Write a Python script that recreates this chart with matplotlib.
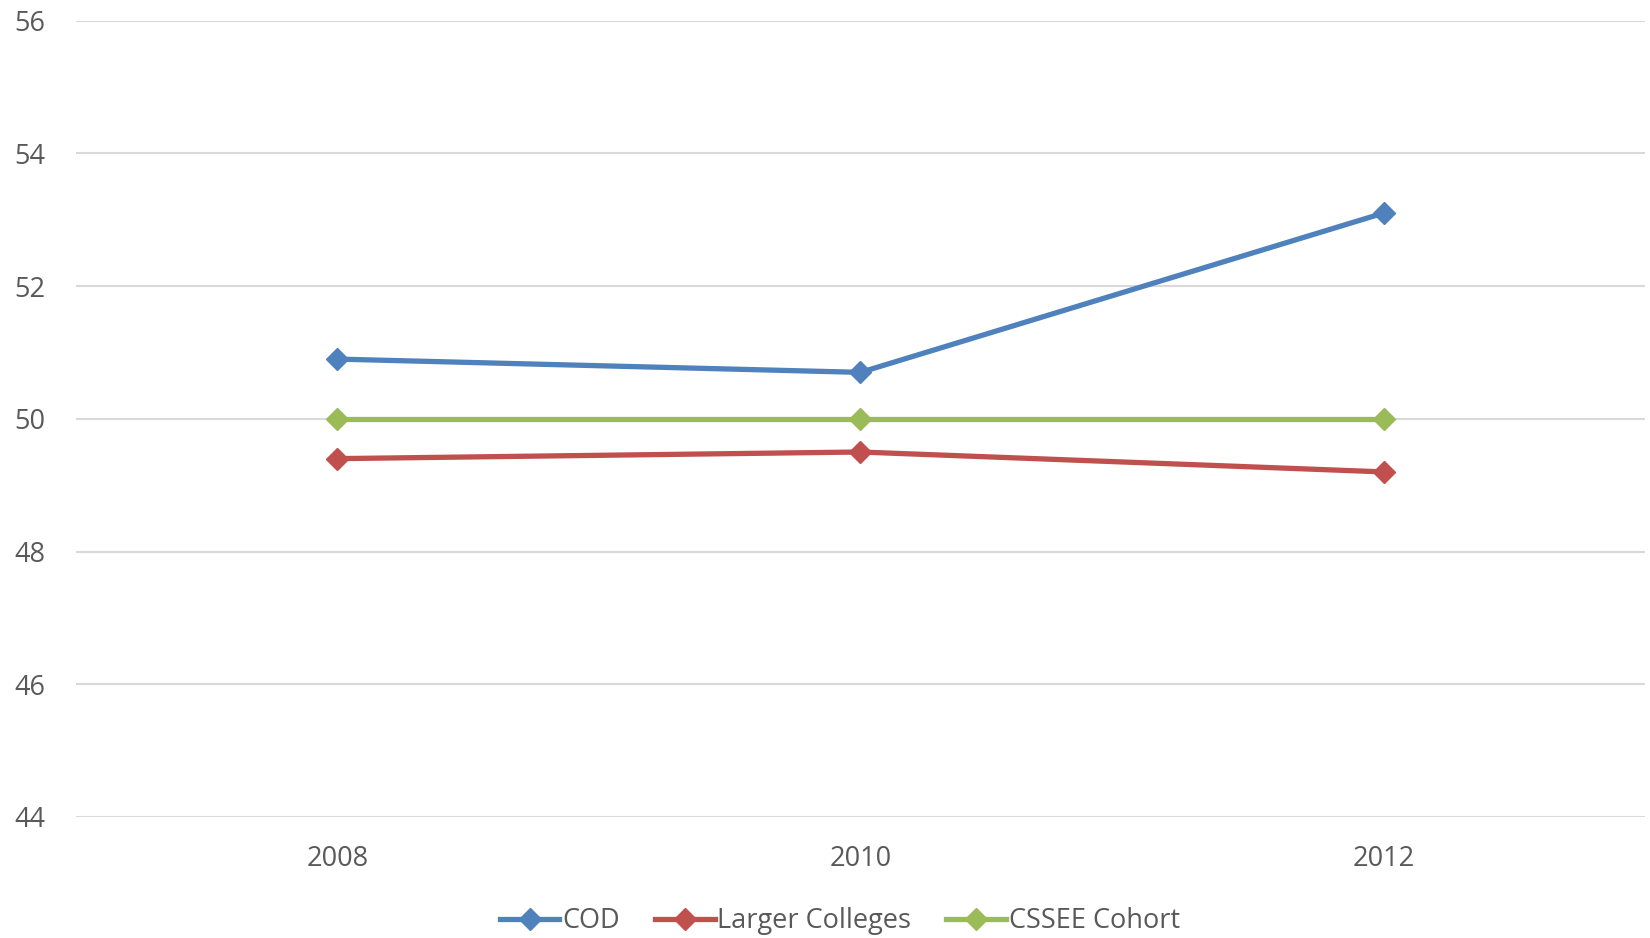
import matplotlib
matplotlib.use("Agg")
import matplotlib.pyplot as plt

# data
years = ["2008", "2010", "2012"]
cod = [50.9, 50.7, 53.1]
larger_colleges = [49.4, 49.5, 49.2]
cssee_cohort = [50.0, 50.0, 50.0]

series = [
    ("COD", cod, "#4F81BD"),
    ("Larger Colleges", larger_colleges, "#C0504D"),
    ("CSSEE Cohort", cssee_cohort, "#9BBB59"),
]

plt.rcParams["font.family"] = ["Open Sans", "DejaVu Sans"]

fig = plt.figure(figsize=(16.5, 9.38), dpi=100)
ax = fig.add_axes([0.046, 0.129, 0.951, 0.849])

x = range(len(years))
for name, vals, col in series:
    ax.plot(x, vals, color=col, lw=3.8, marker="D", markersize=11,
            label=name, zorder=3, solid_joinstyle="round")

ax.set_xlim(-0.5, len(years) - 0.5)
ax.set_ylim(44, 56)
ax.set_yticks(range(44, 57, 2))
ax.set_xticks(list(x))
ax.set_xticklabels(years)
ax.yaxis.grid(True, color="#D9D9D9", lw=1.5)
ax.set_axisbelow(True)
for s in ax.spines.values():
    s.set_visible(False)
ax.tick_params(axis="both", length=0, labelsize=19.5, labelcolor="#595959")
ax.tick_params(axis="y", pad=22)
ax.tick_params(axis="x", pad=20)

fig.legend(loc="center", bbox_to_anchor=(0.509, 0.018), ncol=3, frameon=False,
           fontsize=19.5, labelcolor="#595959", handlelength=2.2,
           handletextpad=0.1, columnspacing=1.3)

fig.savefig("out.png", dpi=100)
